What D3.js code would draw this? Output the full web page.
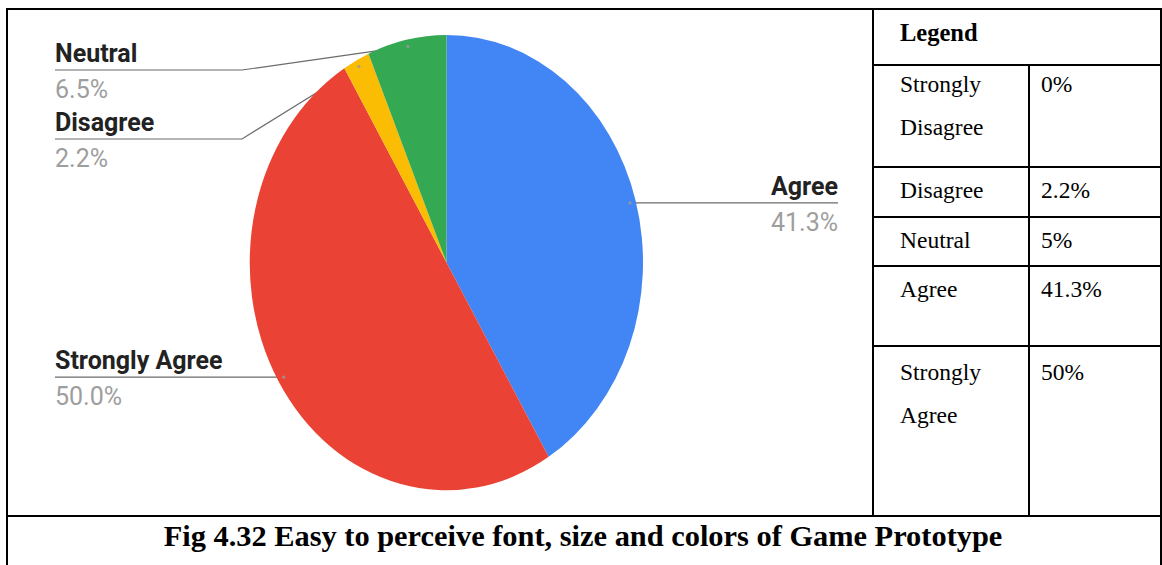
<!DOCTYPE html>
<html>
<head>
<meta charset="utf-8">
<script src="https://cdn.jsdelivr.net/npm/d3@7"></script>
<style>
  html, body { margin: 0; padding: 0; background: #fff; }
  svg { display: block; }
</style>
</head>
<body>
<svg id="chart" width="1162" height="565"></svg>
<script>
// Survey answers shown in the pie (clockwise from 12 o'clock)
const categories = ["Agree", "Strongly Agree", "Disagree", "Neutral"];
const shares = [41.3, 50.0, 2.2, 6.5];
const sliceColors = ["#4285F4", "#EA4335", "#FBBC04", "#34A853"];

// Legend table rows
const legendLabels = [["Strongly", "Disagree"], ["Disagree"], ["Neutral"], ["Agree"], ["Strongly", "Agree"]];
const legendValues = ["0%", "2.2%", "5%", "41.3%", "50%"];

const captionText = "Fig 4.32 Easy to perceive font, size and colors of Game Prototype";

const svg = d3.select("#chart");
const W = 1162, H = 565;

// ---------- pie ----------
const cx = 446.5, cy = 262.5, ry = 227.5, rx = 196.5;
const sx = rx / ry;

const pie = d3.pie().sort(null).value(d => d.value).startAngle(0).endAngle(2 * Math.PI);
const data = categories.map((c, i) => ({ name: c, value: shares[i], color: sliceColors[i] }));
const arcs = pie(data);
const arc = d3.arc().innerRadius(0).outerRadius(ry);

// anchor point inside each slice, in page coordinates
function anchor(a, f) {
  const m = (a.startAngle + a.endAngle) / 2;
  return [cx + rx * f * Math.sin(m), cy - ry * f * Math.cos(m)];
}

// leader-line layout: side, underline y, elbow x, text edge
const labelLayout = {
  "Agree":          { side: "right", y: null, end: 838 },
  "Strongly Agree": { side: "left",  y: null, start: 55 },
  "Disagree":       { side: "left",  y: 139, start: 55, elbow: 242 },
  "Neutral":        { side: "left",  y: 70,  start: 55, elbow: 242 }
};

const leaders = svg.append("g");
const pieG = svg.append("g").attr("transform", `translate(${cx},${cy}) scale(${sx},1)`);
const dots = svg.append("g");
const labels = svg.append("g").attr("font-family", "Roboto, sans-serif").attr("font-size", 25);

pieG.selectAll("path").data(arcs).join("path")
  .attr("d", arc)
  .attr("fill", d => d.data.color);

const fmt = d3.format(".1f");
arcs.forEach(a => {
  const L = labelLayout[a.data.name];
  const p = anchor(a, 0.97);
  const ly = L.y === null ? p[1] : L.y;
  let pts;
  if (L.side === "right") {
    pts = [p, [L.end, ly]];
  } else if (L.elbow) {
    pts = [[L.start, ly], [L.elbow, ly], p];
  } else {
    pts = [[L.start, ly], p];
  }
  leaders.append("path")
    .attr("d", d3.line()(pts))
    .attr("fill", "none")
    .attr("stroke", "#6b6b6b")
    .attr("stroke-width", 1.2);
  dots.append("circle").attr("cx", p[0]).attr("cy", p[1]).attr("r", 1.6)
    .attr("fill", "#9a9a9a").attr("opacity", 0.8);

  const tx = L.side === "right" ? L.end : L.start;
  const anchorSide = L.side === "right" ? "end" : "start";
  labels.append("text")
    .attr("x", tx).attr("y", ly - 8)
    .attr("text-anchor", anchorSide)
    .attr("font-weight", 700)
    .attr("fill", "#222")
    .text(a.data.name);
  labels.append("text")
    .attr("x", tx).attr("y", ly + 28)
    .attr("text-anchor", anchorSide)
    .attr("fill", "#9e9e9e")
    .text(fmt(a.data.value) + "%");
});

// ---------- frame & legend table ----------
const frame = svg.append("g").attr("stroke", "#000").attr("stroke-width", 2).attr("fill", "none");
const xLeft = 7, xRight = 1161, yTop = 9, capTop = 516;
const col1 = 873, col2 = 1029;
const rowBounds = [65, 167, 217, 266, 346, capTop];
// first text baseline inside each row
const rowBaselines = [92, 198, 248, 297, 380];

const hline = (x1, x2, y) => frame.append("line").attr("x1", x1).attr("x2", x2).attr("y1", y).attr("y2", y);
const vline = (x, y1, y2) => frame.append("line").attr("x1", x).attr("x2", x).attr("y1", y1).attr("y2", y2);

hline(xLeft - 1, xRight + 1, yTop);
hline(xLeft - 1, xRight + 1, capTop);
vline(xLeft, yTop, H);
vline(xRight, yTop, H);
vline(col1, yTop, capTop);
vline(col2, rowBounds[0], capTop);
rowBounds.slice(0, -1).forEach(y => hline(col1, xRight, y));

const serif = "'Liberation Serif', 'Times New Roman', serif";
const tbl = svg.append("g").attr("font-family", serif).attr("fill", "#000");
tbl.append("text").attr("x", 900).attr("y", 41)
  .attr("font-size", 24.5).attr("font-weight", 700).text("Legend");

const lineGap = 43;
legendLabels.forEach((parts, i) => {
  const base = rowBaselines[i];
  parts.forEach((t, j) => {
    tbl.append("text").attr("x", 900).attr("y", base + j * lineGap)
      .attr("font-size", 23.5).text(t);
  });
  tbl.append("text").attr("x", 1041).attr("y", base)
    .attr("font-size", 23.5).text(legendValues[i]);
});

svg.append("text")
  .attr("x", 583).attr("y", 546)
  .attr("text-anchor", "middle")
  .attr("font-family", serif)
  .attr("font-weight", 700)
  .attr("font-size", 30.4)
  .text(captionText);
</script>
</body>
</html>
